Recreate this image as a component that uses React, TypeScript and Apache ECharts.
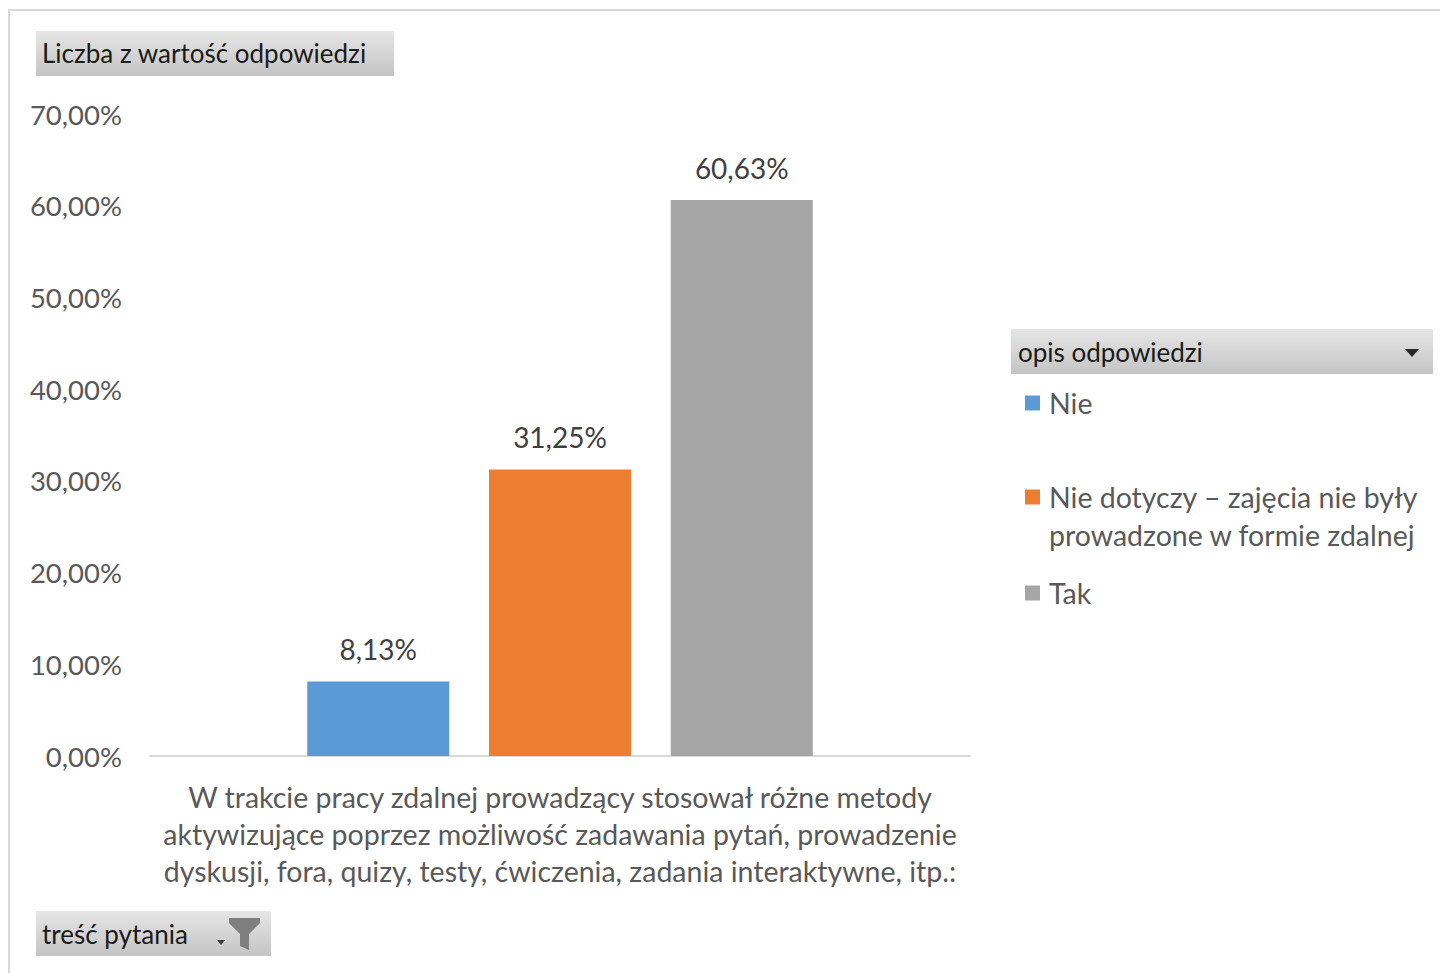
import React, { useEffect, useRef } from "react";
import * as echarts from "echarts";

const categories = [
  "W trakcie pracy zdalnej prowadzący stosował różne metody\naktywizujące poprzez możliwość zadawania pytań, prowadzenie\ndyskusji, fora, quizy, testy, ćwiczenia, zadania interaktywne, itp.:",
];
const seriesNames = [
  "Nie",
  "Nie dotyczy – zajęcia nie były prowadzone w formie zdalnej",
  "Tak",
];
const seriesValues = [[8.13], [31.25], [60.63]];
const seriesColors = ["#5B9BD5", "#ED7D31", "#A5A5A5"];
const yTicks = { min: 0, max: 70, interval: 10 };

const FONT = "Lato, 'Noto Sans', sans-serif";
const fmt = (v: number) => v.toFixed(2).replace(".", ",") + "%";

export default function App() {
  const ref = useRef<HTMLDivElement>(null);
  useEffect(() => {
    document.body.style.margin = "0";
    const chart = echarts.init(ref.current!, undefined, { renderer: "svg" });
    const btnFill = new echarts.graphic.LinearGradient(0, 0, 0, 1, [
      { offset: 0, color: "#e6e6e6" },
      { offset: 1, color: "#c4c4c4" },
    ]);
    const legendTops = [384, 440, 574];
    chart.setOption({
      animation: false,
      backgroundColor: "#ffffff",
      textStyle: { fontFamily: FONT },
      grid: { left: 150, right: 470, top: 114, bottom: 217, containLabel: false },
      xAxis: {
        type: "category",
        data: categories,
        axisLine: { lineStyle: { color: "#d9d9d9", width: 2 } },
        axisTick: { show: false },
        axisLabel: {
          color: "#595959",
          fontSize: 28.5,
          lineHeight: 37,
          margin: 22,
          fontFamily: FONT,
        },
      },
      yAxis: {
        type: "value",
        min: yTicks.min,
        max: yTicks.max,
        interval: yTicks.interval,
        splitLine: { show: false },
        axisLine: { show: false },
        axisTick: { show: false },
        axisLabel: {
          color: "#595959",
          fontSize: 27.5,
          margin: 28,
          fontFamily: FONT,
          formatter: (v: number) => fmt(v),
        },
      },
      legend: seriesNames.map((n, i) => ({
        data: [n],
        orient: "vertical",
        left: 1025,
        top: legendTops[i],
        padding: 0,
        itemWidth: 15,
        itemHeight: 15,
        itemGap: 10,
        icon: "rect",
        selectedMode: false,
        formatter: (name: string) =>
          name.startsWith("Nie dotyczy")
            ? "\nNie dotyczy – zajęcia nie były\nprowadzone w formie zdalnej"
            : name,
        textStyle: {
          color: "#595959",
          fontSize: 28.5,
          lineHeight: 38,
          fontFamily: FONT,
          padding: [0, 0, 0, 4],
        },
      })),
      series: seriesNames.map((n, i) => ({
        name: n,
        type: "bar",
        data: seriesValues[i],
        barWidth: 142,
        barGap: "28%",
        itemStyle: { color: seriesColors[i] },
        label: {
          show: true,
          position: "top",
          distance: 18,
          color: "#404040",
          fontSize: 28,
          fontFamily: FONT,
          formatter: (p: any) => fmt(p.value),
        },
      })),
      graphic: [
        {
          type: "rect",
          shape: { x: 9, y: 10, width: 1450, height: 1000 },
          style: { fill: "none", stroke: "#d9d9d9", lineWidth: 2 },
          silent: true,
        },
        {
          type: "rect",
          shape: { x: 36, y: 31, width: 358, height: 45 },
          style: { fill: btnFill },
        },
        {
          type: "text",
          x: 42,
          y: 53,
          style: {
            text: "Liczba z wartość odpowiedzi",
            fill: "#1a1a1a",
            fontSize: 26,
            fontFamily: FONT,
            verticalAlign: "middle",
          },
        },
        {
          type: "rect",
          shape: { x: 1011, y: 329, width: 422, height: 45 },
          style: { fill: btnFill },
        },
        {
          type: "text",
          x: 1018,
          y: 352,
          style: {
            text: "opis odpowiedzi",
            fill: "#1a1a1a",
            fontSize: 26,
            fontFamily: FONT,
            verticalAlign: "middle",
          },
        },
        {
          type: "polygon",
          shape: { points: [[1405, 349], [1419, 349], [1412, 357]] },
          style: { fill: "#262626" },
        },
        {
          type: "rect",
          shape: { x: 36, y: 911, width: 235, height: 45 },
          style: { fill: btnFill },
        },
        {
          type: "text",
          x: 42,
          y: 934,
          style: {
            text: "treść pytania",
            fill: "#1a1a1a",
            fontSize: 26,
            fontFamily: FONT,
            verticalAlign: "middle",
          },
        },
        {
          type: "polygon",
          shape: { points: [[217, 940], [225, 940], [221, 945]] },
          style: { fill: "#404040" },
        },
        {
          type: "polygon",
          shape: {
            points: [
              [229, 918], [260, 918], [260, 923], [249, 934],
              [249, 950], [240, 946], [240, 934], [229, 923],
            ],
          },
          style: { fill: "#7f7f7f" },
        },
      ],
    });
    return () => chart.dispose();
  }, []);
  return <div ref={ref} style={{ width: 1440, height: 973 }} />;
}
